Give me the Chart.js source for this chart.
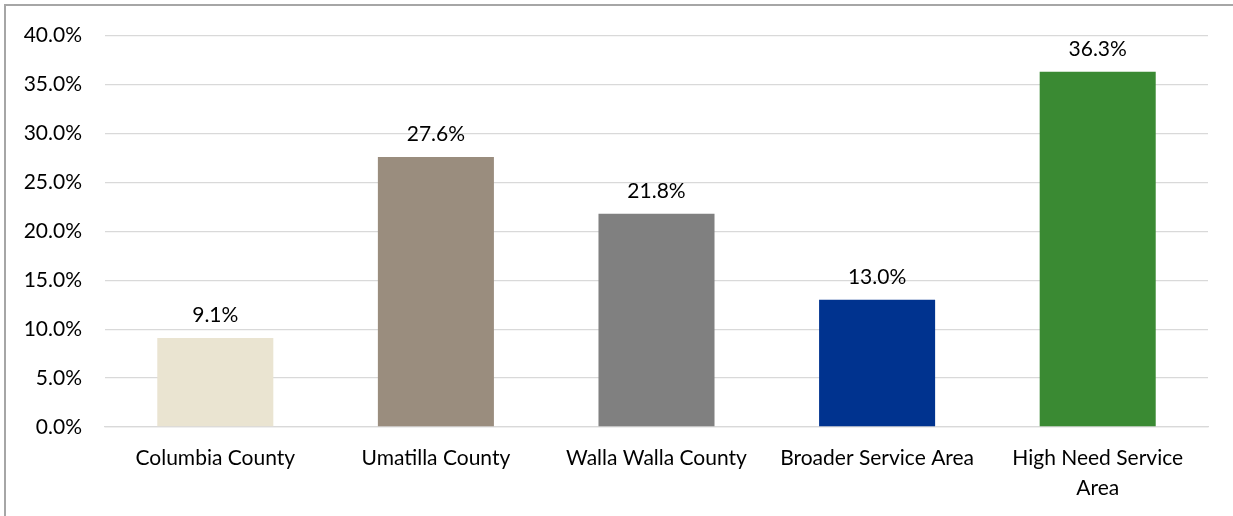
<!DOCTYPE html>
<html>
<head>
<meta charset="utf-8">
<script src="https://cdn.jsdelivr.net/npm/chart.js@4"></script>
<style>
  html, body { margin: 0; padding: 0; background: #fff; }
  #wrap {
    position: relative;
    width: 1233px;
    height: 516px;
    overflow: hidden;
  }
  #frame {
    position: absolute;
    left: 4px; top: 4px; right: -10px; bottom: -10px;
    border-left: 2px solid #a6a6a6;
    border-top: 2px solid #a6a6a6;
  }
  canvas { position: absolute; left: 0; top: 0; }
</style>
</head>
<body>
<div id="wrap">
  <div id="frame"></div>
  <canvas id="barChart" width="1233" height="516"></canvas>
</div>
<script>
let categories = [
  "Columbia County",
  "Umatilla County",
  "Walla Walla County",
  "Broader Service Area",
  ["High Need Service", "Area"],
];
let values = [9.1, 27.6, 21.8, 13.0, 36.3];
let barColors = ["#eae4d1", "#9a8d7e", "#808080", "#00338f", "#3a8a33"];
let yTicks = [0, 5, 10, 15, 20, 25, 30, 35, 40];

let fontFamily = "Lato, 'Open Sans', sans-serif";

// draws the value above each bar
let valueLabels = {
  id: "valueLabels",
  afterDatasetsDraw(chart) {
    let ctx = chart.ctx;
    let meta = chart.getDatasetMeta(0);
    ctx.save();
    ctx.font = "21px " + fontFamily;
    ctx.fillStyle = "#000";
    ctx.textAlign = "center";
    ctx.textBaseline = "bottom";
    meta.data.forEach((bar, i) => {
      ctx.fillText(values[i].toFixed(1) + "%", bar.x, bar.y - 12);
    });
    ctx.restore();
  },
};

let myChart = document.getElementById("barChart").getContext("2d");

let chart = new Chart(myChart, {
  type: "bar",
  data: {
    labels: categories,
    datasets: [
      {
        data: values,
        backgroundColor: barColors,
        borderWidth: 0,
        barPercentage: 0.526,
        categoryPercentage: 1,
      },
    ],
  },
  plugins: [valueLabels],
  options: {
    responsive: false,
    animation: false,
    layout: {
      padding: { left: 0, right: 25, top: 34, bottom: 0 },
    },
    plugins: {
      legend: { display: false },
      tooltip: { enabled: false },
    },
    scales: {
      y: {
        min: 0,
        max: 40,
        afterBuildTicks: (axis) => {
          axis.ticks = yTicks.map((v) => ({ value: v }));
        },
        afterFit: (axis) => {
          axis.width = 105;
        },
        ticks: {
          callback: (v) => v.toFixed(1) + "%",
          color: "#000",
          font: { size: 21, family: fontFamily },
          padding: 23,
        },
        grid: {
          color: "#d9d9d9",
          lineWidth: 1.3,
          drawTicks: false,
        },
        border: { display: false },
      },
      x: {
        afterFit: (axis) => {
          axis.height = 89;
        },
        ticks: {
          color: "#000",
          font: { size: 21, family: fontFamily, lineHeight: 1.4 },
          padding: 17,
          maxRotation: 0,
          autoSkip: false,
        },
        grid: { display: false, drawTicks: false },
        border: { color: "#d9d9d9", width: 1.3 },
      },
    },
  },
});
</script>
</body>
</html>
